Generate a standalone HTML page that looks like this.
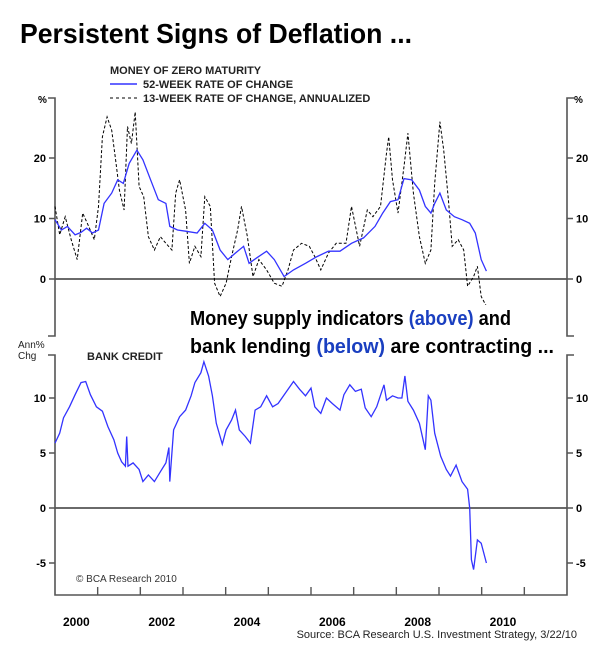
<!DOCTYPE html>
<html><head><meta charset="utf-8"><style>
body{margin:0;background:#fff}
svg{display:block;font-family:"Liberation Sans",Arial,sans-serif}
</style></head><body>
<svg id="chart" width="600" height="661" viewBox="0 0 600 661" xmlns="http://www.w3.org/2000/svg">
<text x="20" y="43" font-size="28" font-weight="bold" textLength="392" lengthAdjust="spacingAndGlyphs">Persistent Signs of Deflation ...</text>
<text x="110" y="74" font-size="11" font-weight="bold" fill="#222">MONEY OF ZERO MATURITY</text>
<line x1="110" y1="84" x2="137" y2="84" stroke="#3333ff" stroke-width="1.5"/>
<text x="143" y="88" font-size="11" font-weight="bold" fill="#222">52-WEEK RATE OF CHANGE</text>
<line x1="110" y1="98" x2="137" y2="98" stroke="#000" stroke-width="1" stroke-dasharray="3,3"/>
<text x="143" y="102" font-size="11" font-weight="bold" fill="#222">13-WEEK RATE OF CHANGE, ANNUALIZED</text>
<g id="axes"></g>
<g id="series"></g>
<rect x="186" y="305" width="372" height="52" fill="#fff"/>
<text x="190" y="325" font-size="20" font-weight="bold" textLength="321" lengthAdjust="spacingAndGlyphs">Money supply indicators <tspan fill="#1a3fc0">(above)</tspan> and</text>
<text x="190" y="353" font-size="20" font-weight="bold" textLength="364" lengthAdjust="spacingAndGlyphs">bank lending <tspan fill="#1a3fc0">(below)</tspan> are contracting ...</text>
<text x="87" y="360" font-size="11" font-weight="bold" fill="#222">BANK CREDIT</text>
<text x="18" y="348" font-size="10" fill="#222">Ann%</text>
<text x="18" y="359" font-size="10" fill="#222">Chg</text>
<text x="38" y="103" font-size="10" font-weight="bold">%</text>
<text x="574" y="103" font-size="10" font-weight="bold">%</text>
<text x="76" y="582" font-size="10" fill="#333">© BCA Research 2010</text>
<text x="577" y="638" font-size="11" text-anchor="end" fill="#222">Source: BCA Research U.S. Investment Strategy, 3/22/10</text>
</svg>
<script>
const yearTicks=[2000,2002,2004,2006,2008,2010];
const topTicks=[0,10,20];
const botTicks=[-5,0,5,10];
const m52Dates=[2000.00,2000.15,2000.29,2000.47,2000.61,2000.74,2000.88,2001.02,2001.15,2001.33,2001.47,2001.60,2001.74,2001.92,2002.06,2002.24,2002.42,2002.60,2002.69,2002.87,2003.06,2003.33,2003.51,2003.69,2003.87,2004.05,2004.23,2004.42,2004.55,2004.73,2004.96,2005.14,2005.37,2005.59,2005.87,2006.14,2006.41,2006.68,2006.95,2007.23,2007.50,2007.68,2007.86,2008.04,2008.18,2008.36,2008.54,2008.68,2008.81,2008.90,2009.02,2009.17,2009.36,2009.54,2009.72,2009.85,2009.99,2010.11];
const m52Values=[9.8,8.1,8.7,7.3,7.7,8.4,7.6,8.1,12.5,14.2,16.4,15.8,19.1,21.3,19.7,16.4,13.1,12.5,8.7,8.1,7.9,7.6,9.2,8.1,4.8,3.2,4.3,5.4,2.6,3.5,4.6,3.2,0.4,1.5,2.6,3.7,4.6,4.6,5.9,6.8,8.7,10.9,12.8,13.1,16.6,16.4,14.7,12.0,10.9,12.5,14.2,11.4,10.3,9.8,9.2,7.6,3.2,1.3];
const m13Dates=[2000.00,2000.11,2000.24,2000.38,2000.52,2000.65,2000.79,2000.92,2001.02,2001.11,2001.22,2001.33,2001.42,2001.51,2001.62,2001.70,2001.79,2001.88,2001.97,2002.08,2002.19,2002.33,2002.47,2002.60,2002.74,2002.83,2002.92,2003.06,2003.15,2003.28,2003.42,2003.51,2003.64,2003.74,2003.87,2004.01,2004.14,2004.28,2004.37,2004.51,2004.64,2004.78,2004.96,2005.14,2005.32,2005.46,2005.59,2005.78,2005.96,2006.09,2006.23,2006.41,2006.59,2006.82,2006.95,2007.14,2007.32,2007.45,2007.63,2007.77,2007.82,2007.91,2008.04,2008.18,2008.27,2008.40,2008.54,2008.68,2008.81,2008.90,2009.02,2009.11,2009.22,2009.31,2009.45,2009.58,2009.67,2009.81,2009.90,2009.99,2010.11];
const m13Values=[12,7.3,10.3,6.5,3.2,10.9,8.7,6.5,12,23.5,26.8,24.6,19.7,14.7,11.4,25.2,22.4,27.6,15.3,13.6,7,4.8,7,5.9,4.8,14.2,16.4,11.4,2.6,5.4,3.7,13.6,12,-0.7,-2.9,-0.7,3.7,8.1,12,7,0.4,3.2,1.5,-0.7,-1.2,1.5,4.8,5.9,5.4,3.7,1.5,4.3,5.9,5.9,12,5.4,11.4,10.3,12,20.8,23.5,16.4,10.9,18.6,24.1,14.2,7,2.6,4.8,15.8,26,21.3,13.1,5.4,6.5,4.8,-1.2,0.4,2.1,-2.9,-4.5];
const bankDates=[2000.00,2000.11,2000.20,2000.34,2000.47,2000.61,2000.72,2000.83,2000.97,2001.11,2001.24,2001.38,2001.47,2001.56,2001.65,2001.68,2001.71,2001.83,2001.97,2002.06,2002.19,2002.33,2002.47,2002.60,2002.67,2002.69,2002.78,2002.92,2003.06,2003.19,2003.28,2003.42,2003.49,2003.60,2003.69,2003.78,2003.92,2004.01,2004.14,2004.23,2004.32,2004.46,2004.58,2004.69,2004.82,2004.96,2005.10,2005.23,2005.41,2005.59,2005.73,2005.87,2006.00,2006.09,2006.23,2006.36,2006.50,2006.68,2006.77,2006.91,2007.04,2007.18,2007.27,2007.41,2007.54,2007.71,2007.77,2007.91,2008.04,2008.13,2008.20,2008.27,2008.40,2008.54,2008.68,2008.75,2008.81,2008.90,2009.04,2009.17,2009.27,2009.40,2009.54,2009.67,2009.72,2009.76,2009.81,2009.90,2009.99,2010.11];
const bankValues=[5.9,6.8,8.2,9.2,10.3,11.4,11.5,10.3,9.2,8.8,7.4,6.2,5,4.2,3.8,6.5,3.8,4.1,3.5,2.4,3,2.4,3.3,4.1,5.5,2.4,7.1,8.3,8.9,10.2,11.4,12.3,13.3,12,10.2,7.7,5.8,7.1,8,8.9,7.1,6.5,5.9,8.9,9.2,10.2,9.2,9.5,10.5,11.5,10.8,10.2,10.9,9.2,8.6,10,9.5,8.9,10.3,11.2,10.6,10.8,9.1,8.3,9.2,11.2,9.8,10.2,10,10,12,9.7,8.9,7.7,5.3,10.2,9.8,6.8,4.7,3.5,2.9,3.9,2.4,1.7,0,-4.7,-5.6,-2.9,-3.2,-5];

const NS="http://www.w3.org/2000/svg";
const L=55,R=567;
const xS=y=>L+(y-2000)/12*(R-L);
const yTop=v=>279-v*6.05;
const yBot=v=>508-v*11;
const axes=document.getElementById('axes'),series=document.getElementById('series');
function mk(tag,attrs,parent){const e=document.createElementNS(NS,tag);for(const k in attrs)e.setAttribute(k,attrs[k]);parent.appendChild(e);return e;}
const G="#555";
// top panel frame
let e;
e=mk('path',{d:`M${L-7},98H${L}V336H${L-7} M${R+7},98H${R}V336H${R+7}`,stroke:G,'stroke-width':1.6,fill:'none'},axes);


e=mk('line',{x1:L,x2:R,y1:yTop(0),y2:yTop(0),stroke:G,'stroke-width':1.8},axes);


topTicks.forEach(t=>{
 const y=yTop(t);
 e=mk('path',{d:`M${L-6},${y}H${L} M${R},${y}H${R+6}`,stroke:G,'stroke-width':1.4},axes);
 
 
 e=mk('text',{x:L-9,y:y+4,'font-size':11,'font-weight':'bold','text-anchor':'end'},axes);e.textContent=t;
 
 
 e=mk('text',{x:R+9,y:y+4,'font-size':11,'font-weight':'bold'},axes);e.textContent=t;
 
 
});
// bottom panel frame
e=mk('path',{d:`M${L-7},355H${L}V595H${R}V355H${R+7}`,stroke:G,'stroke-width':1.6,fill:'none'},axes);


e=mk('line',{x1:L,x2:R,y1:yBot(0),y2:yBot(0),stroke:G,'stroke-width':1.8},axes);


botTicks.forEach(t=>{
 const y=yBot(t);
 e=mk('path',{d:`M${L-6},${y}H${L} M${R},${y}H${R+6}`,stroke:G,'stroke-width':1.4},axes);
 
 
 e=mk('text',{x:L-9,y:y+4,'font-size':11,'font-weight':'bold','text-anchor':'end'},axes);e.textContent=t;
 
 
 e=mk('text',{x:R+9,y:y+4,'font-size':11,'font-weight':'bold'},axes);e.textContent=t;
 
 
});
for(let yr=2001;yr<2012;yr++){
 e=mk('line',{x1:xS(yr),x2:xS(yr),y1:595,y2:587,stroke:G,'stroke-width':1.4},axes);
 
 
}
yearTicks.forEach(yr=>{
 e=mk('text',{x:xS(yr+0.5),y:626,'font-size':12,'font-weight':'bold','text-anchor':'middle'},axes);e.textContent=yr;
 
 
});
function line(dates,vals,ys){return dates.map((d,i)=>(i?'L':'M')+xS(d).toFixed(1)+','+ys(vals[i]).toFixed(1)).join('');}
e=mk('path',{d:line(m13Dates,m13Values,yTop),stroke:'#000','stroke-width':1,fill:'none','stroke-dasharray':'3,2'},series);


e=mk('path',{d:line(m52Dates,m52Values,yTop),stroke:'#3333ff','stroke-width':1.3,fill:'none'},series);


e=mk('path',{d:line(bankDates,bankValues,yBot),stroke:'#3333ff','stroke-width':1.3,fill:'none'},series);


</script>
</body></html>
